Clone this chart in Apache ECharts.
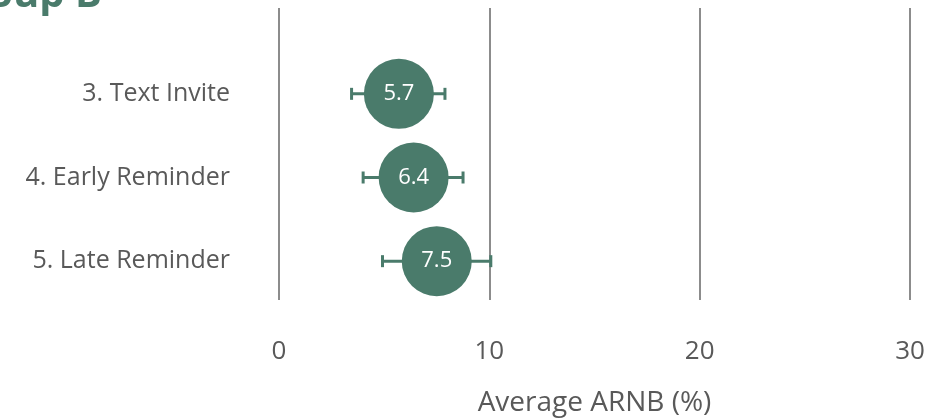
<!DOCTYPE html>
<html><head><meta charset="utf-8">
<script src="https://cdn.jsdelivr.net/npm/echarts@6/dist/echarts.min.js"></script>
<style>html,body{margin:0;padding:0;background:#fff}#c{width:945px;height:419px}</style>
</head><body><div id="c"></div>
<script>
const categories = ['3. Text Invite', '4. Early Reminder', '5. Late Reminder'];
const values = [5.7, 6.4, 7.5];
const lowValues = [3.45, 4.0, 4.92];
const highValues = [7.89, 8.75, 10.07];
const xTicks = [0, 10, 20, 30];
const titleText = 'Group B';
const axisTitle = 'Average ARNB (%)';

const green = '#4a7b6b';
const font = 'Open Sans';
const chart = echarts.init(document.getElementById('c'));
chart.setOption({
  animation: false,
  graphic: [{
    type: 'text', left: -59, top: -24,
    style: { text: titleText, font: 'bold 40px "Open Sans"', fill: green }
  }],
  grid: [
    { left: 279, right: 35, top: 8, bottom: 119, containLabel: false, outerBoundsMode: 'none' },
    { left: 279, right: 35, top: 52, bottom: 116, containLabel: false, outerBoundsMode: 'none' }
  ],
  xAxis: [{
    gridIndex: 0, type: 'value', min: xTicks[0], max: xTicks[xTicks.length - 1], interval: 10,
    axisLine: { show: false }, axisTick: { show: false },
    splitLine: { show: true, lineStyle: { color: '#8c8c8c', width: 2 } },
    axisLabel: { color: '#595959', fontSize: 26, fontFamily: font, margin: 39 },
    name: axisTitle, nameLocation: 'middle', nameGap: 89,
    nameTextStyle: { color: '#595959', fontSize: 28, fontFamily: font }
  }, {
    gridIndex: 1, type: 'value', min: xTicks[0], max: xTicks[xTicks.length - 1],
    show: false
  }],
  yAxis: [{
    gridIndex: 0, type: 'value', show: false
  }, {
    gridIndex: 1, type: 'category', data: categories, inverse: true,
    axisLine: { show: false }, axisTick: { show: false }, splitLine: { show: false },
    axisLabel: { color: '#595959', fontSize: 25, fontFamily: font, margin: 49 }
  }],
  series: [{
    type: 'custom', xAxisIndex: 1, yAxisIndex: 1, z: 2,
    data: categories.map((c, i) => [lowValues[i], highValues[i], i]),
    renderItem: function (params, api) {
      const lo = api.coord([api.value(0), api.value(2)]);
      const hi = api.coord([api.value(1), api.value(2)]);
      const h = 6;
      const st = { stroke: green, lineWidth: 3 };
      return {
        type: 'group', children: [
          { type: 'line', shape: { x1: lo[0], y1: lo[1], x2: hi[0], y2: hi[1] }, style: st },
          { type: 'line', shape: { x1: lo[0], y1: lo[1] - h, x2: lo[0], y2: lo[1] + h }, style: st },
          { type: 'line', shape: { x1: hi[0], y1: hi[1] - h, x2: hi[0], y2: hi[1] + h }, style: st }
        ]
      };
    }
  }, {
    type: 'scatter', xAxisIndex: 1, yAxisIndex: 1, z: 3,
    symbolSize: 70,
    itemStyle: { color: green, opacity: 1 },
    data: values.map((v, i) => [v, i]),
    label: {
      show: true, position: 'inside', color: '#ffffff', fontSize: 22, fontFamily: font,
      formatter: p => p.value[0].toFixed(1)
    }
  }]
});
</script></body></html>
